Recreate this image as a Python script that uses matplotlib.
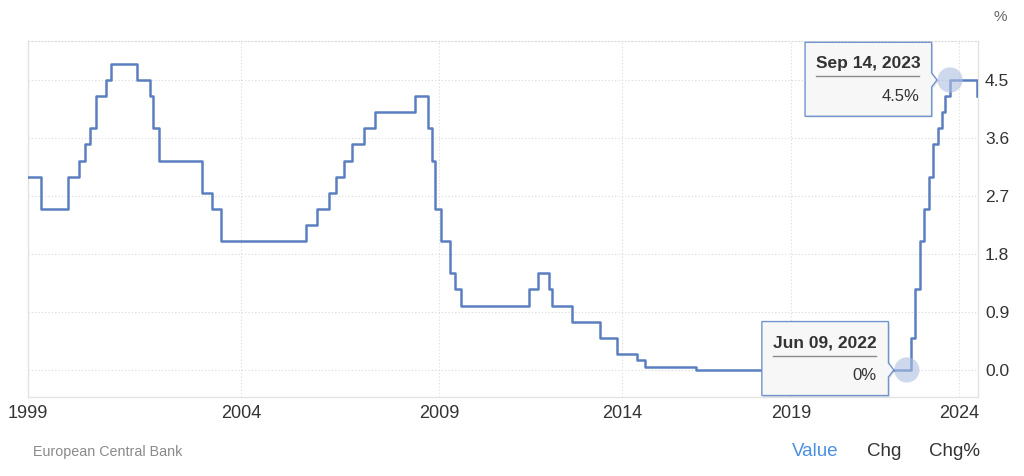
import matplotlib.pyplot as plt
import matplotlib.transforms as mtransforms
from matplotlib.patches import Polygon
from matplotlib.ticker import NullLocator
import numpy as np
import pandas as pd

plt.rcParams["font.family"] = ["Liberation Sans", "DejaVu Sans"]

# ECB main refinancing rate, dates of each change (announcement dates)
CHANGE_DATES = [
    "1999-01-01", "1999-04-08", "1999-11-04", "2000-02-03", "2000-03-16",
    "2000-04-27", "2000-06-08", "2000-08-31", "2000-10-05", "2001-05-10",
    "2001-08-30", "2001-09-17", "2001-11-08", "2002-12-05", "2003-03-06",
    "2003-06-05", "2005-12-01", "2006-03-02", "2006-06-08", "2006-08-03",
    "2006-10-05", "2006-12-07", "2007-03-08", "2007-06-06", "2008-07-03",
    "2008-10-08", "2008-11-06", "2008-12-04", "2009-01-15", "2009-03-05",
    "2009-04-02", "2009-05-07", "2011-04-07", "2011-07-07", "2011-11-03",
    "2011-12-08", "2012-07-05", "2013-05-02", "2013-11-07", "2014-06-05",
    "2014-09-04", "2016-03-10", "2022-06-09", "2022-07-21", "2022-09-08",
    "2022-10-27", "2022-12-15", "2023-02-02", "2023-03-16", "2023-05-04",
    "2023-06-15", "2023-07-27", "2023-09-14", "2024-06-06",
]
RATES = [
    3.00, 2.50, 3.00, 3.25, 3.50,
    3.75, 4.25, 4.50, 4.75, 4.50,
    4.25, 3.75, 3.25, 2.75, 2.50,
    2.00, 2.25, 2.50, 2.75, 3.00,
    3.25, 3.50, 3.75, 4.00, 4.25,
    3.75, 3.25, 2.50, 2.00, 1.50,
    1.25, 1.00, 1.25, 1.50, 1.25,
    1.00, 0.75, 0.50, 0.25, 0.15,
    0.05, 0.00, 0.00, 0.50, 1.25,
    2.00, 2.50, 3.00, 3.50, 3.75,
    4.00, 4.25, 4.50, 4.25,
]

YEAR_TICKS = [1999, 2004, 2009, 2014, 2019, 2024]
Y_TICKS = [0.0, 0.9, 1.8, 2.7, 3.6, 4.5]

# hover tooltips shown on the chart: (date, value, label, value text, box top)
TOOLTIPS = [
    ("2023-09-14", 4.5, "Sep 14, 2023", "4.5%", 37.7),
    ("2022-06-09", 0.0, "Jun 09, 2022", "0%", 48.4),
]

# the time axis is not linear in the source chart; anchor years -> axis units
SCALE_YEARS = [1999.0, 2000.76, 2001.85, 2003.42, 2005.92, 2007.43, 2008.50,
               2009.0, 2009.35, 2011.26, 2012.51, 2014.43, 2016.19, 2022.55,
               2023.70, 2024.0, 2024.43, 2025.0]
SCALE_POS = [28, 111, 158.7, 221.3, 305.7, 375, 415,
             439, 461.7, 529.3, 571.7, 636.7, 696, 910.7,
             950, 959, 976.7, 995]

LINE_COLOR = "#5a7fc0"
TEXT_COLOR = "#333333"


def decimal_year(dates):
    d = pd.to_datetime(dates)
    days = np.where(d.is_leap_year, 366, 365)
    return np.asarray(d.year + (d.dayofyear - 1) / days, dtype=float)


def forward(v):
    return np.interp(v, SCALE_YEARS, SCALE_POS)


def inverse(p):
    return np.interp(p, SCALE_POS, SCALE_YEARS)


def draw_tooltip(ax, x, y, title, value, top):
    # shapes are given in pixels relative to the hovered point
    trans = mtransforms.IdentityTransform() + mtransforms.ScaledTranslation(
        x, y, ax.transData
    )
    left, right = -145.0, -18.4
    bottom = top - 74.0
    verts = [
        (left, top), (right, top), (right, 7), (-13, 0), (right, -7),
        (right, bottom), (left, bottom),
    ]
    shadow = Polygon(
        [(vx + 1.5, vy - 1.5) for vx, vy in verts],
        closed=True, facecolor="black", edgecolor="none", alpha=0.10,
        transform=trans, zorder=5, clip_on=False,
    )
    box = Polygon(
        verts, closed=True, facecolor="#f7f7f7", edgecolor="#7094cf",
        linewidth=1.0, transform=trans, zorder=6, clip_on=False,
    )
    ax.add_patch(shadow)
    ax.add_patch(box)
    ax.text(-134, top - 21, title, transform=trans, ha="left", va="center",
            fontsize=12.5, fontweight="bold", color=TEXT_COLOR, zorder=7,
            clip_on=False)
    ax.plot([-134, -30.7], [top - 34, top - 34], transform=trans,
            color="#8c8c8c", linewidth=1.0, zorder=7, clip_on=False)
    ax.text(-30.7, top - 54, value, transform=trans, ha="right", va="center",
            fontsize=12, color=TEXT_COLOR, zorder=7, clip_on=False)


def main():
    x = decimal_year(CHANGE_DATES)
    y = np.asarray(RATES)

    fig = plt.figure(figsize=(10.24, 4.76), dpi=100)
    ax = fig.add_axes([0.02734, 0.1666, 0.92773, 0.74727])

    ax.set_xscale("function", functions=(forward, inverse))
    ax.set_xlim(1999.0, 2024.47)
    ax.set_ylim(-0.415, 5.105)

    ax.step(x, y, where="post", color=LINE_COLOR, linewidth=1.8, zorder=3)

    ax.set_xticks(YEAR_TICKS)
    ax.set_xticklabels([str(v) for v in YEAR_TICKS])
    ax.xaxis.set_minor_locator(NullLocator())
    ax.set_yticks(Y_TICKS)
    ax.set_yticklabels([f"{v:.1f}" for v in Y_TICKS])
    ax.yaxis.tick_right()

    ax.tick_params(axis="x", length=0, pad=6, labelsize=13, labelcolor=TEXT_COLOR)
    ax.tick_params(axis="y", length=0, pad=5, labelsize=12.5, labelcolor=TEXT_COLOR)

    ax.grid(True, color="#d9d9d9", linestyle=(0, (1, 2)), linewidth=0.8)
    ax.set_axisbelow(True)
    for side in ["left", "right", "bottom"]:
        ax.spines[side].set_color("#e3e3e3")
        ax.spines[side].set_linewidth(1.0)
    ax.spines["top"].set_color("#d9d9d9")
    ax.spines["top"].set_linestyle((0, (1, 2)))
    ax.spines["top"].set_linewidth(0.8)

    for date, val, title, text, top in TOOLTIPS:
        tx = decimal_year([date])[0]
        ax.scatter([tx], [val], s=330, color="#aebfe0", alpha=0.6,
                   edgecolors="none", zorder=4, clip_on=False)
        draw_tooltip(ax, tx, val, title, text, top)

    fig.text(1000 / 1024, 1 - 17 / 476, "%", ha="center", va="center",
             fontsize=11, color="#666666")
    fig.text(33 / 1024, 1 - 452 / 476, "European Central Bank", ha="left",
             va="center", fontsize=10.3, color="#8a8a8a")
    fig.text(815 / 1024, 1 - 452 / 476, "Value", ha="center", va="center",
             fontsize=13.5, color="#4a90e2")
    fig.text(884 / 1024, 1 - 452 / 476, "Chg", ha="center", va="center",
             fontsize=13.5, color=TEXT_COLOR)
    fig.text(955 / 1024, 1 - 452 / 476, "Chg%", ha="center", va="center",
             fontsize=13.5, color=TEXT_COLOR)

    fig.savefig("out.png", dpi=100)
    plt.close(fig)


if __name__ == "__main__":
    main()
